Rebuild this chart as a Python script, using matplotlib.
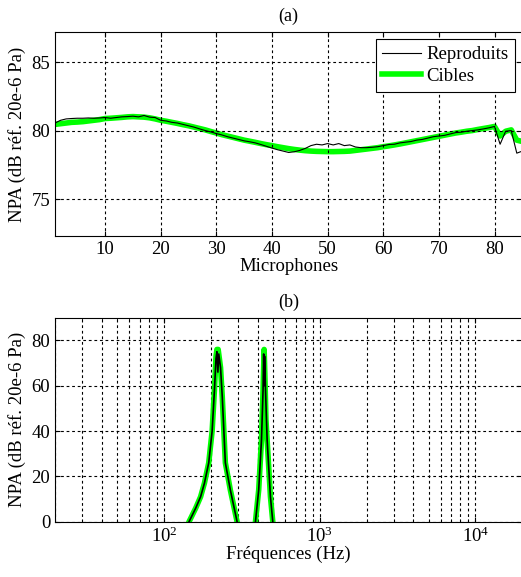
import matplotlib
matplotlib.use("Agg")
import matplotlib.pyplot as plt
import numpy as np

plt.rcParams['font.family'] = ['Liberation Serif', 'DejaVu Serif']
plt.rcParams['font.size'] = 13.5

# (a) niveaux par microphone
microphones = np.arange(1, 86)
cibles = [80.45, 80.5, 80.55, 80.6, 80.62, 80.65, 80.7, 80.75, 80.8, 80.88,
          80.9, 80.93, 80.96, 81.0, 81.02, 81.0, 80.98, 80.93, 80.85, 80.75,
          80.68, 80.6, 80.52, 80.43, 80.35, 80.25, 80.15, 80.05, 79.93, 79.82,
          79.7, 79.6, 79.5, 79.4, 79.3, 79.22, 79.14, 79.05, 78.97, 78.9,
          78.82, 78.75, 78.68, 78.62, 78.57, 78.53, 78.5, 78.48, 78.47, 78.46,
          78.46, 78.47, 78.48, 78.5, 78.55, 78.6, 78.65, 78.7, 78.75, 78.82,
          78.88, 78.95, 79.02, 79.1, 79.18, 79.26, 79.34, 79.42, 79.5, 79.58,
          79.66, 79.74, 79.82, 79.88, 79.95, 80.0, 80.08, 80.15, 80.22, 80.3,
          79.6, 79.95, 80.05, 79.3, 79.2]
reproduits = [80.55, 80.75, 80.85, 80.88, 80.9, 80.9, 80.92, 80.9, 80.92, 80.95,
              80.9, 80.95, 81.0, 81.02, 81.05, 81.0, 81.1, 80.98, 80.95, 80.75,
              80.7, 80.6, 80.55, 80.45, 80.35, 80.25, 80.12, 80.0, 79.9, 79.78,
              79.68, 79.55, 79.45, 79.35, 79.25, 79.18, 79.1, 78.98, 78.85, 78.72,
              78.6, 78.5, 78.4, 78.45, 78.55, 78.7, 78.9, 79.0, 78.95, 79.05,
              78.95, 79.05, 78.9, 78.95, 78.8, 78.75, 78.75, 78.78, 78.82, 78.9,
              78.98, 79.0, 79.1, 79.15, 79.2, 79.3, 79.35, 79.45, 79.55, 79.6,
              79.65, 79.75, 79.85, 79.88, 79.95, 80.0, 80.05, 80.12, 80.2, 80.3,
              79.0, 79.95, 80.0, 78.35, 78.5]

# (b) spectre
freq_cible = [100, 145, 160, 172, 182, 194, 204, 211, 216, 219, 223, 227, 231, 237,
              248, 267, 295, 330, 387, 406, 423, 433, 440, 446, 452, 460, 483, 500, 600]
npa_cible = [-30, 0, 6, 11, 17, 26, 40, 58, 73, 76, 76, 72, 68, 55,
             26, 14, 0, -30, 0, 14, 36, 58, 76, 62, 45, 36, 11, 0, -30]
freq_repro = [100, 145, 160, 172, 182, 194, 204, 211, 216, 219, 222, 225, 231, 237,
              248, 267, 295, 330, 387, 406, 423, 433, 437, 440, 443, 449, 460, 483, 500, 600]
npa_repro = [-30, 0, 6, 11, 17, 26, 40, 58, 72, 75, 66, 74, 68, 55,
             26, 14, 0, -30, 0, 14, 36, 58, 74, 60, 73, 58, 36, 11, 0, -30]

vert = '#00ff00'
grille = dict(color='black', linestyle=(0, (2.5, 2.5)), linewidth=0.8)

fig = plt.figure(figsize=(5.21, 5.77), dpi=100)

ax1 = fig.add_axes([0.1056, 0.591, 0.897, 0.3536])
ax1.plot(microphones, reproduits, color='black', linewidth=0.8, label='Reproduits')
ax1.plot(microphones, cibles, color=vert, linewidth=4, label='Cibles', zorder=1)
ax1.set_xlim(1, 85)
ax1.set_ylim(72.3, 87.2)
ax1.set_xticks(range(10, 81, 10))
ax1.set_yticks([75, 80, 85])
ax1.grid(True, **grille)
ax1.set_xlabel('Microphones', labelpad=0)
ax1.set_ylabel('NPA (dB réf. 20e-6 Pa)')
ax1.set_title('(a)', fontsize=13, pad=8)
h, l = ax1.get_legend_handles_labels()
leg = ax1.legend(h, l, loc='upper right', fancybox=False, edgecolor='black',
                 framealpha=1, borderaxespad=0.4, handlelength=2.1,
                 handletextpad=0.25, labelspacing=0.25, borderpad=0.35,
                 fontsize=13.5)
leg.get_frame().set_linewidth(0.8)

ax2 = fig.add_axes([0.1056, 0.0958, 0.897, 0.3536])
ax2.plot(freq_cible, npa_cible, color=vert, linewidth=4)
ax2.plot(freq_repro, npa_repro, color='black', linewidth=1.2)
ax2.set_xscale('log')
ax2.set_xlim(20, 20000)
ax2.set_ylim(0, 90)
ax2.set_yticks([0, 20, 40, 60, 80])
ax2.grid(True, which='major', **grille)
ax2.grid(True, which='minor', axis='x', **grille)
ax2.set_xlabel('Fréquences (Hz)', labelpad=0)
ax2.set_ylabel('NPA (dB réf. 20e-6 Pa)')
ax2.set_title('(b)', fontsize=13, pad=8)

for ax in (ax1, ax2):
    ax.tick_params(which='both', direction='in', top=True, right=True)
    for s in ax.spines.values():
        s.set_linewidth(0.8)

fig.savefig('out.png', dpi=100)
